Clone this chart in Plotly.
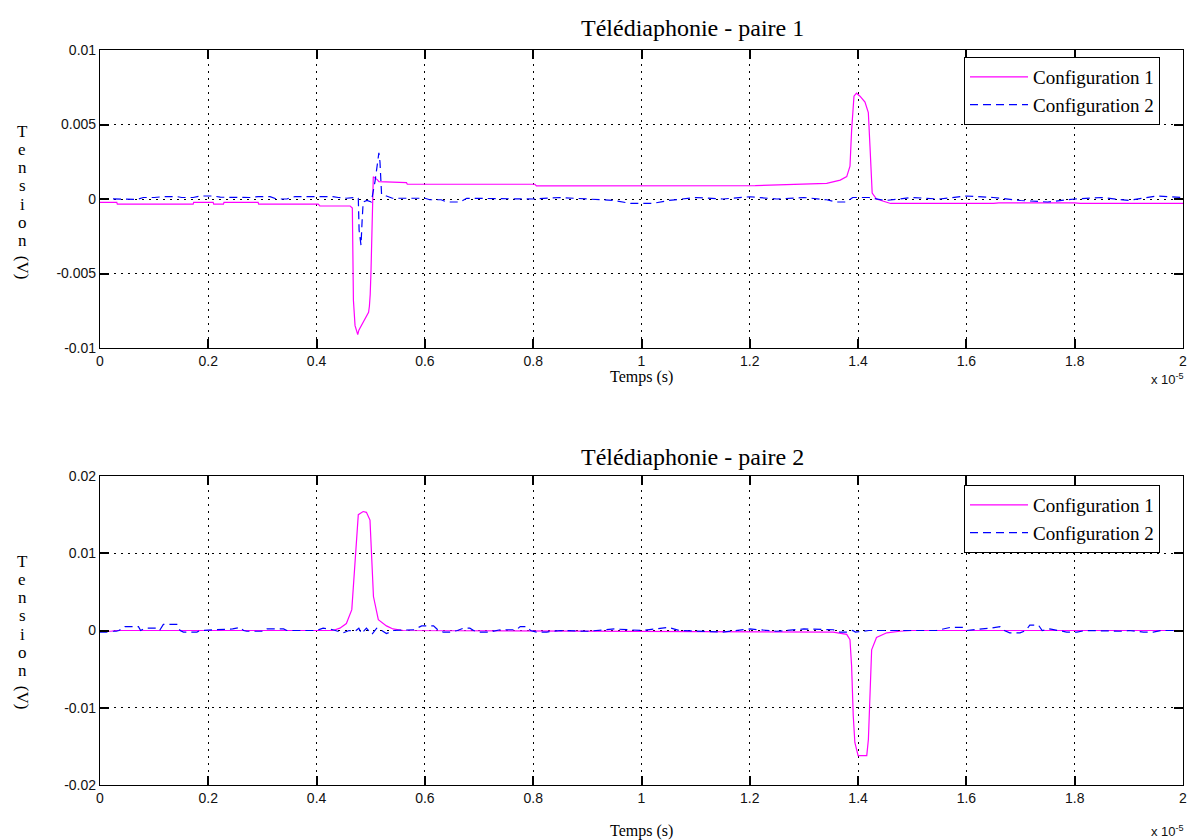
import plotly.graph_objects as go

# ---------------- data (time in units of 1e-5 s, voltage in V) ----------------
t_p1_c1 = [0.0, 0.031, 0.032, 0.172, 0.173, 0.209, 0.21, 0.228, 0.229, 0.292, 0.293, 0.403,
           0.406, 0.462, 0.466, 0.468, 0.471, 0.476, 0.478, 0.49, 0.496, 0.4975, 0.499, 0.5005,
           0.5035, 0.5047, 0.508, 0.512, 0.515, 0.566, 0.5675, 0.803, 0.806, 1.0, 1.2, 1.21,
           1.342, 1.367, 1.379, 1.385, 1.388, 1.3924, 1.397, 1.4035, 1.4127, 1.4189, 1.422,
           1.426, 1.434, 1.454, 1.46, 1.65, 1.66, 1.8, 1.81, 2.0]
v_p1_c1 = [-0.00022, -0.00022, -0.00034, -0.00034, -0.00022, -0.00022, -0.00034, -0.00034,
           -0.00022, -0.00022, -0.00034, -0.00034, -0.00047, -0.00047, -0.0006, -0.0068,
           -0.0085, -0.0091, -0.0088, -0.0080, -0.0076, -0.0072, -0.0064, -0.0048, -0.0005,
           0.0015, 0.0014, 0.0013, 0.00116, 0.0011, 0.00099, 0.00099, 0.00088, 0.00088,
           0.00088, 0.0009, 0.00105, 0.00127, 0.0015, 0.0022, 0.0046, 0.0069, 0.0071, 0.0069,
           0.0065, 0.0058, 0.0035, 0.0004, 0.0, -0.00025, -0.0003, -0.0003, -0.00026,
           -0.00026, -0.0003, -0.0003]

t_p1_c2 = [0.0, 0.03, 0.043, 0.068, 0.08, 0.1, 0.117, 0.142, 0.151, 0.172, 0.185, 0.21, 0.222,
           0.246, 0.255, 0.277, 0.292, 0.314, 0.326, 0.345, 0.36, 0.385, 0.4, 0.43, 0.44,
           0.455, 0.47, 0.477, 0.4785, 0.482, 0.484, 0.486, 0.493, 0.501, 0.508, 0.513,
           0.515, 0.517, 0.52, 0.529, 0.54, 0.6, 0.609, 0.63, 0.64, 0.665, 0.677, 0.8, 0.85,
           0.9, 0.95, 0.98, 1.02, 1.05, 1.1, 1.15, 1.2, 1.25, 1.3, 1.342, 1.36, 1.378, 1.39,
           1.42, 1.435, 1.45, 1.5, 1.55, 1.6, 1.65, 1.7, 1.75, 1.8, 1.85, 1.9, 1.95, 2.0]
v_p1_c2 = [0.00003, 0.0, -0.00003, -0.00003, 0.0001, 0.0001, 0.00016, 0.00016, 0.0001,
           0.0001, 0.0002, 0.0002, 0.00012, 0.00012, 0.0001, 0.0001, 0.00016, 0.00016, 0.0,
           0.0, 0.00016, 0.00016, 0.0002, 0.00016, 0.0001, 0.00005, 0.0001, 0.00005, -0.0021,
           -0.0031, -0.0015, -0.0002, -0.0001, -0.0002, 0.0012, 0.0028, 0.0031, 0.0025,
           0.0003, 0.0002, 0.00005, 0.00005, -0.00005, -0.00005, -0.0002, -0.0002, 0.00005,
           0.0, 0.0001, 0.0, -0.0001, -0.0003, -0.0003, -0.0001, 0.0001, 0.0, 0.00015, 0.0,
           0.0001, -0.00005, -0.0002, -0.0002, 0.0001, 0.0001, 0.0, -0.0001, 0.0001, 0.0,
           0.0002, 0.0001, -0.0001, -0.0002, 0.0, 0.0001, -0.0001, 0.0002, 0.0001]

t_p2_c1 = [0.0, 0.02, 0.03, 0.43, 0.443, 0.455, 0.465, 0.471, 0.477, 0.486, 0.492, 0.4986,
           0.502, 0.505, 0.514, 0.529, 0.541, 0.56, 1.354, 1.379, 1.385, 1.388, 1.391, 1.394,
           1.4, 1.416, 1.419, 1.422, 1.425, 1.434, 1.453, 1.477, 1.5, 2.0]
v_p2_c1 = [-0.0001, -0.0001, 0.0, 0.0, 0.0003, 0.0009, 0.0027, 0.009, 0.015, 0.0154, 0.0153,
           0.0143, 0.009, 0.0044, 0.0014, 0.0006, 0.0002, 0.0, -0.0002, -0.0005, -0.0012,
           -0.0046, -0.011, -0.0145, -0.0162, -0.0162, -0.0141, -0.0068, -0.0025, -0.0009,
           -0.0003, -0.0001, 0.0, 0.0]

t_p2_c2 = [0.0, 0.012, 0.015, 0.03, 0.035, 0.046, 0.071, 0.075, 0.083, 0.105, 0.11, 0.117,
           0.142, 0.148, 0.154, 0.179, 0.185, 0.228, 0.245, 0.259, 0.265, 0.271, 0.302, 0.308,
           0.339, 0.345, 0.4, 0.412, 0.43, 0.449, 0.46, 0.471, 0.478, 0.483, 0.492, 0.502,
           0.511, 0.52, 0.529, 0.542, 0.58, 0.594, 0.616, 0.625, 0.634, 0.646, 0.66, 0.671,
           0.683, 0.69, 0.702, 0.72, 0.73, 0.739, 0.769, 0.776, 0.788, 0.795, 0.806, 0.825,
           0.85, 0.9, 0.95, 1.0, 1.05, 1.07, 1.15, 1.2, 1.25, 1.3, 1.354, 1.366, 1.38, 1.39,
           1.395, 1.42, 1.545, 1.56, 1.57, 1.594, 1.6, 1.644, 1.662, 1.67, 1.68, 1.699, 1.71,
           1.717, 1.733, 1.74, 1.754, 1.785, 1.804, 1.82, 1.871, 1.89, 1.9, 1.927, 1.945,
           1.96, 2.0]
v_p2_c2 = [-0.0002, -0.0002, -0.0001, -0.0001, 0.0, 0.0005, 0.0005, 0.0, 0.0003, 0.0003, 0.0,
           0.0008, 0.0008, 0.0, -0.0002, -0.0002, 0.0, 0.0002, 0.0002, 0.0004, 0.0, -0.0001,
           -0.0001, 0.0002, 0.0002, 0.0, 0.0, 0.0003, 0.0001, -0.0003, 0.0, -0.0001, 0.0003,
           -0.0004, 0.0003, -0.0005, 0.0003, 0.0, -0.0004, 0.0, 0.0001, 0.0006, 0.0006, 0.0,
           -0.0002, -0.0002, 0.0, 0.0003, 0.0003, 0.0, -0.0002, -0.0002, 0.0, 0.0001, 0.0001,
           0.0005, 0.0005, 0.0, -0.0002, -0.0002, 0.0, -0.0001, 0.0002, 0.0, 0.0004, 0.0,
           -0.0002, 0.0002, -0.0001, 0.0002, 0.0001, -0.0002, -0.0002, 0.0, -0.0002, 0.0, 0.0,
           0.0003, 0.0004, 0.0004, 0.0, 0.0003, 0.0005, 0.0, -0.0003, -0.0003, 0.0, 0.0007,
           0.0007, 0.0, 0.0002, -0.0002, -0.0002, 0.0, -0.0001, -0.0001, 0.0, -0.0002,
           -0.0002, 0.0, 0.0]

x_tickvals = [0, 0.2, 0.4, 0.6, 0.8, 1.0, 1.2, 1.4, 1.6, 1.8, 2.0]
x_ticktext = ["0", "0.2", "0.4", "0.6", "0.8", "1", "1.2", "1.4", "1.6", "1.8", "2"]
y1_tickvals = [-0.01, -0.005, 0, 0.005, 0.01]
y1_ticktext = ["-0.01", "-0.005", "0", "0.005", "0.01"]
y2_tickvals = [-0.02, -0.01, 0, 0.01, 0.02]
y2_ticktext = ["-0.02", "-0.01", "0", "0.01", "0.02"]

titles = ["Télédiaphonie - paire 1", "Télédiaphonie - paire 2"]
series_names = ["Configuration 1", "Configuration 2"]
xlabel = "Temps (s)"
ylabel_letters = ["T", "e", "n", "s", "i", "o", "n"]

# ---------------- layout helpers ----------------
W, H = 1188, 840
L, R = 100, 5


def px_x(p):
    return (p - L) / (W - L - R)


def px_y(p):
    return 1 - p / H


MAG = "#FF00FF"
BLU = "#0000FF"
SERIF = "Liberation Serif"
SANS = "Liberation Sans"

fig = go.Figure()
fig.add_trace(go.Scatter(x=t_p1_c1, y=v_p1_c1, mode="lines", name=series_names[0],
                         line=dict(color=MAG, width=1.2), xaxis="x", yaxis="y", legend="legend"))
fig.add_trace(go.Scatter(x=t_p1_c2, y=v_p1_c2, mode="lines", name=series_names[1],
                         line=dict(color=BLU, width=1.2, dash="8px,5px"), xaxis="x", yaxis="y",
                         legend="legend"))
fig.add_trace(go.Scatter(x=t_p2_c1, y=v_p2_c1, mode="lines", name=series_names[0],
                         line=dict(color=MAG, width=1.2), xaxis="x2", yaxis="y2", legend="legend2"))
fig.add_trace(go.Scatter(x=t_p2_c2, y=v_p2_c2, mode="lines", name=series_names[1],
                         line=dict(color=BLU, width=1.2, dash="8px,5px"), xaxis="x2", yaxis="y2",
                         legend="legend2"))

axis_common = dict(showline=True, linecolor="black", linewidth=1.2, mirror="ticks",
                   ticks="inside", ticklen=9, tickwidth=1.5, tickcolor="black",
                   showgrid=True, gridcolor="black", griddash="2px,5px", gridwidth=1,
                   zeroline=False, automargin=False,
                   tickfont=dict(family=SANS, size=14, color="#111"))

legend_common = dict(x=px_x(1160), xanchor="right", yanchor="top",
                     bgcolor="white", bordercolor="black", borderwidth=1,
                     font=dict(family=SERIF, size=19, color="black"), itemwidth=58,
                     tracegroupgap=0)

fig.update_layout(
    width=W, height=H,
    margin=dict(l=L, r=R, t=0, b=0, autoexpand=False),
    paper_bgcolor="white", plot_bgcolor="white",
    xaxis=dict(domain=[0, 1], range=[0, 2], anchor="y", tickvals=x_tickvals,
               ticktext=x_ticktext, **axis_common),
    yaxis=dict(domain=[px_y(348), px_y(50)], range=[-0.01, 0.01], anchor="x",
               tickvals=y1_tickvals, ticktext=y1_ticktext, **axis_common),
    xaxis2=dict(domain=[0, 1], range=[0, 2], anchor="y2", tickvals=x_tickvals,
                ticktext=x_ticktext, **axis_common),
    yaxis2=dict(domain=[px_y(785), px_y(476)], range=[-0.02, 0.02], anchor="x2",
                tickvals=y2_tickvals, ticktext=y2_ticktext, **axis_common),
    legend=dict(y=px_y(57), **legend_common),
    legend2=dict(y=px_y(485), **legend_common),
    showlegend=True,
)

ann = []
# titles
for title, ypix in zip(titles, [28, 457]):
    ann.append(dict(text=title, x=px_x(692), y=px_y(ypix), xref="paper", yref="paper",
                    xanchor="center", yanchor="middle", showarrow=False,
                    font=dict(family=SERIF, size=24, color="black")))
# x labels
for ypix in [377, 831]:
    ann.append(dict(text=xlabel, x=px_x(641), y=px_y(ypix), xref="paper", yref="paper",
                    xanchor="center", yanchor="middle", showarrow=False,
                    font=dict(family=SERIF, size=16, color="black")))
# x 10^-5
for ypix in [379, 831]:
    ann.append(dict(text="x 10<sup>-5</sup>", x=px_x(1186), y=px_y(ypix), xref="paper",
                    yref="paper", xanchor="right", yanchor="middle", showarrow=False,
                    font=dict(family=SANS, size=13, color="#111")))
# vertical y labels
for top in [131, 561]:
    for i, ch in enumerate(ylabel_letters):
        ann.append(dict(text=ch, x=px_x(22), y=px_y(top + i * 18.3), xref="paper",
                        yref="paper", xanchor="center", yanchor="middle", showarrow=False,
                        font=dict(family=SERIF, size=17, color="black")))
    ann.append(dict(text="(V)", x=px_x(22), y=px_y(top + 6 * 18.3 + 27), xref="paper",
                    yref="paper", xanchor="center", yanchor="middle", showarrow=False,
                    textangle=90, font=dict(family=SERIF, size=17, color="black")))
fig.update_layout(annotations=ann)

fig.write_html("out.html", config={"displayModeBar": False},
               post_script="document.body.style.margin='0px';")
